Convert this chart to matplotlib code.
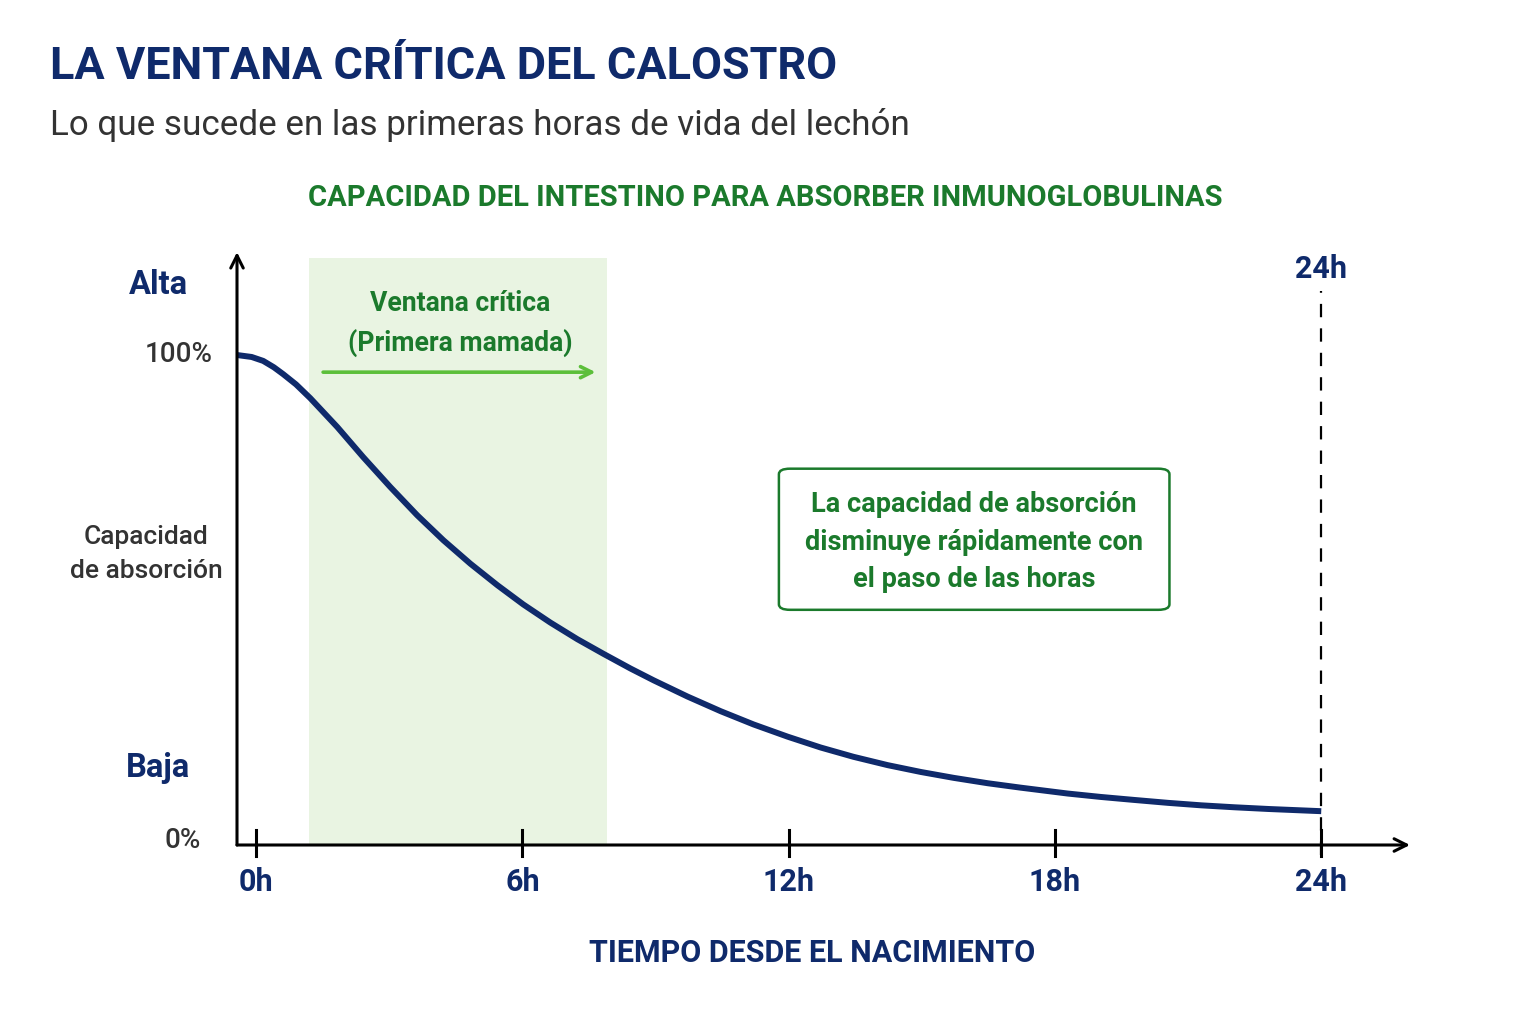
import matplotlib
matplotlib.use("Agg")
import matplotlib.pyplot as plt
from matplotlib.patches import FancyBboxPatch

plt.rcParams['font.family'] = ['Roboto', 'DejaVu Sans']

NAVY = '#0f2a6b'
GREEN = '#1b7a2c'
LIGHT_GREEN = '#5cbf3a'
SHADE = '#e9f4e2'
GRAY = '#333333'

# curve: hours after birth vs. absorption capacity (%)
hours = [-0.43, -0.1, 0.16, 0.4, 0.61, 0.9, 1.22, 1.83, 2.41, 3.02, 3.63, 4.22,
         4.83, 5.44, 6.02, 6.63, 7.24, 7.83, 8.44, 8.96, 9.72, 10.47, 11.21,
         11.98, 12.72, 13.46, 14.23, 14.98, 15.72, 16.49, 17.23, 18.29, 19.04,
         19.78, 20.55, 21.29, 22.04, 22.81, 24.0]
capacity = [100, 99.6, 98.8, 97.5, 96.1, 94.0, 91.2, 85.3, 79.2, 73.1, 67.3, 62.2,
            57.4, 53.0, 49.1, 45.4, 42.0, 39.0, 36.0, 33.6, 30.3, 27.3, 24.6,
            22.1, 19.9, 18.0, 16.3, 14.9, 13.7, 12.6, 11.7, 10.5, 9.8,
            9.2, 8.6, 8.1, 7.7, 7.35, 6.9]

tick_hours = [0, 6, 12, 18, 24]
tick_labels = ['0h', '6h', '12h', '18h', '24h']

window = (1.2, 7.9)   # critical window (hours)

fig = plt.figure(figsize=(15.36, 10.24), dpi=100)
ax = fig.add_axes([237 / 1536, 1 - 845 / 1024, 1173 / 1536, 587 / 1024])
ax.set_xlim(-0.43, 26.0)
ax.set_ylim(0, 119.8)
ax.axis('off')

# shaded critical window
ax.axvspan(window[0], window[1], ymin=0, ymax=1, color=SHADE, lw=0, zorder=0)

# curve
ax.plot(hours, capacity, color=NAVY, lw=4.3, solid_capstyle='butt',
        solid_joinstyle='round', zorder=3)

# axes arrows
arrow = dict(arrowstyle='->,head_length=0.9,head_width=0.45', color='black', lw=2.2,
             shrinkA=0, shrinkB=0)
ax.annotate('', xy=(1, 0), xytext=(0, 0), xycoords='axes fraction', arrowprops=arrow,
            annotation_clip=False)
ax.annotate('', xy=(0, 1.01), xytext=(0, 0), xycoords='axes fraction', arrowprops=arrow,
            annotation_clip=False)

# ticks
for h, lab in zip(tick_hours, tick_labels):
    ax.plot([h, h], [-2.2, 3.0], color='black', lw=2.2, clip_on=False, zorder=4)
    ax.text(h, -7.6, lab, ha='center', va='center', color=NAVY, fontsize=22,
            fontweight='bold')

# 24h dashed line
ax.plot([24, 24], [-2, 113], color='black', lw=1.6, ls=(0, (6, 5)), clip_on=False, zorder=2)
ax.text(24, 117.5, '24h', ha='center', va='center', color=NAVY, fontsize=22,
        fontweight='bold')

# window label and arrow
ax.text(4.6, 110.5, 'Ventana crítica', ha='center', va='center', color=GREEN,
        fontsize=19.2, fontweight='bold')
ax.text(4.6, 102.5, '(Primera mamada)', ha='center', va='center', color=GREEN,
        fontsize=19.2, fontweight='bold')
ax.annotate('', xy=(7.65, 96.5), xytext=(1.51, 96.5),
            arrowprops=dict(arrowstyle='->,head_length=0.8,head_width=0.4',
                            color=LIGHT_GREEN, lw=2.6, shrinkA=0, shrinkB=0))

# note box
box = FancyBboxPatch((11.78, 48.0), 8.8, 28.8, boxstyle='round,pad=0,rounding_size=0.25',
                     fc='white', ec=GREEN, lw=1.8, zorder=5,
                     mutation_aspect=4.5)
ax.add_patch(box)
for y, line in zip([69.5, 61.8, 54.2], ['La capacidad de absorción',
                                         'disminuye rápidamente con',
                                         'el paso de las horas']):
    ax.text(16.18, y, line, ha='center', va='center', color=GREEN, fontsize=19.5,
            fontweight='bold', zorder=6)

# y labels
fig.text(158 / 1536, 1 - 285 / 1024, 'Alta', ha='center', va='center', color=NAVY,
         fontsize=23.5, fontweight='bold')
fig.text(179 / 1536, 1 - 355 / 1024, '100%', ha='center', va='center', color=GRAY,
         fontsize=20, fontweight='medium')
fig.text(146 / 1536, 1 - 537 / 1024, 'Capacidad', ha='center', va='center', color=GRAY,
         fontsize=19, fontweight='medium')
fig.text(146 / 1536, 1 - 571 / 1024, 'de absorción', ha='center', va='center', color=GRAY,
         fontsize=19, fontweight='medium')
fig.text(158 / 1536, 1 - 768 / 1024, 'Baja', ha='center', va='center', color=NAVY,
         fontsize=23.5, fontweight='bold')
fig.text(183 / 1536, 1 - 840 / 1024, '0%', ha='center', va='center', color=GRAY,
         fontsize=20, fontweight='medium')

# titles
fig.text(50 / 1536, 1 - 67 / 1024, 'LA VENTANA CRÍTICA DEL CALOSTRO', ha='left', va='center',
         color=NAVY, fontsize=32.4, fontweight='bold')
fig.text(50 / 1536, 1 - 125 / 1024, 'Lo que sucede en las primeras horas de vida del lechón',
         ha='left', va='center', color=GRAY, fontsize=25.2)
fig.text(765 / 1536, 1 - 198 / 1024,
         'CAPACIDAD DEL INTESTINO PARA ABSORBER INMUNOGLOBULINAS',
         ha='center', va='center', color=GREEN, fontsize=21, fontweight='bold')
fig.text(812 / 1536, 1 - 953 / 1024, 'TIEMPO DESDE EL NACIMIENTO', ha='center', va='center',
         color=NAVY, fontsize=22, fontweight='bold')

fig.savefig('out.png', dpi=100, facecolor='white')
